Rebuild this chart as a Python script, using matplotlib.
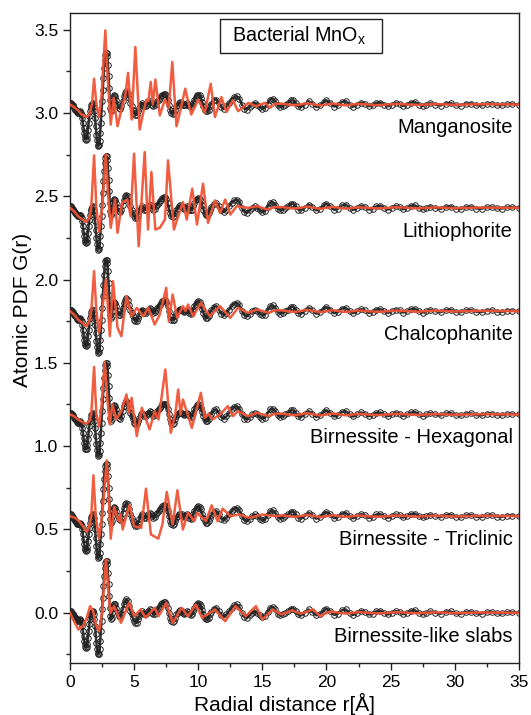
import numpy as np
import matplotlib
matplotlib.use("Agg")
import matplotlib.pyplot as plt
from matplotlib.patches import Rectangle
from matplotlib.ticker import MultipleLocator

plt.rcParams['font.family'] = ['Liberation Sans', 'DejaVu Sans']

# experimental PDF (open circles), same data in every panel
black_r = [0.00, 0.05, 0.10, 0.15, 0.20, 0.25, 0.30, 0.35, 0.40, 0.45, 0.50, 0.55,
           0.60, 0.65, 0.70, 0.75, 0.80, 0.85, 0.90, 0.95, 1.00, 1.05, 1.10, 1.15,
           1.20, 1.25, 1.30, 1.35, 1.40, 1.45, 1.50, 1.55, 1.60, 1.65, 1.70, 1.75,
           1.80, 1.85, 1.90, 1.95, 2.00, 2.05, 2.10, 2.15, 2.20, 2.25, 2.30, 2.35,
           2.40, 2.45, 2.50, 2.55, 2.60, 2.65, 2.70, 2.75, 2.80, 2.85, 2.90, 2.95,
           3.00, 3.05, 3.10, 3.15, 3.20, 3.25, 3.30, 3.35, 3.40, 3.45, 3.50,
           3.6, 3.7, 3.8, 3.9, 4.0, 4.1, 4.2, 4.3, 4.4, 4.5, 4.6, 4.7, 4.8, 4.9,
           5.0, 5.1, 5.2, 5.3, 5.4, 5.5, 5.6, 5.7, 5.8, 5.9, 6.0, 6.1, 6.2, 6.3,
           6.4, 6.5, 6.6, 6.7, 6.8, 6.9, 7.0, 7.1, 7.2, 7.3, 7.4, 7.5, 7.6, 7.7,
           7.8, 7.9, 8.0, 8.1, 8.2, 8.3, 8.4, 8.5, 8.6, 8.7, 8.8, 8.9, 9.0, 9.1,
           9.2, 9.3, 9.4, 9.5, 9.6, 9.7, 9.8, 9.9, 10.0, 10.1, 10.2, 10.3, 10.4,
           10.5, 10.6, 10.7, 10.8, 10.9, 11.0, 11.2, 11.4, 11.6, 11.8, 12.0, 12.2,
           12.4, 12.6, 12.8, 13.0, 13.2, 13.4, 13.6, 13.8, 14.0, 14.2, 14.4, 14.6,
           14.8, 15.0, 15.2, 15.4, 15.6, 15.8, 16.0, 16.2, 16.4, 16.6, 16.8, 17.0,
           17.2, 17.4, 17.6, 17.8, 18.0, 18.3, 18.6, 18.9, 19.2, 19.5, 19.8, 20.0,
           20.3, 20.6, 20.9, 21.2, 21.5, 21.8, 22.1, 22.4, 22.7, 23.0, 23.3, 23.6,
           23.9, 24.2, 24.5, 24.8, 25.1, 25.4, 25.7, 26.0, 26.3, 26.6, 26.9, 27.2,
           27.5, 27.8, 28.1, 28.5, 28.9, 29.3, 29.7, 30.1, 30.5, 30.9, 31.3, 31.7,
           32.1, 32.5, 32.9, 33.3, 33.7, 34.1, 34.5, 35.0]
black_g = [0.01, 0.01, 0.005, 0.0, -0.005, -0.01, -0.02, -0.025, -0.03, -0.035, -0.04, -0.045,
           -0.05, -0.05, -0.045, -0.04, -0.045, -0.05, -0.06, -0.08, -0.11, -0.14, -0.17, -0.19,
           -0.205, -0.21, -0.205, -0.185, -0.15, -0.11, -0.07, -0.04, -0.02, -0.005, 0.005, 0.01,
           0.005, -0.01, -0.04, -0.08, -0.13, -0.18, -0.215, -0.24, -0.25, -0.245, -0.22, -0.17,
           -0.11, -0.05, 0.02, 0.09, 0.16, 0.22, 0.27, 0.30, 0.31, 0.31, 0.29, 0.24,
           0.17, 0.10, 0.03, -0.02, -0.04, -0.03, 0.0, 0.03, 0.05, 0.055, 0.05,
           0.03, 0.0, -0.02, -0.025, -0.01, 0.02, 0.05, 0.07, 0.08, 0.07, 0.04, 0.01, -0.01, -0.03,
           -0.05, -0.06, -0.06, -0.04, -0.02, 0.0, 0.01, 0.0, -0.01, -0.01, 0.0, 0.01, 0.02, 0.015,
           0.0, -0.01, -0.005, 0.01, 0.02, 0.03, 0.04, 0.05, 0.06, 0.065, 0.065, 0.055, 0.03, 0.0,
           -0.03, -0.05, -0.055, -0.05, -0.03, -0.01, 0.0, 0.01, 0.015, 0.01, 0.0, -0.005, 0.0, 0.01,
           0.005, -0.01, -0.015, -0.01, 0.01, 0.03, 0.045, 0.055, 0.06, 0.055, 0.04, 0.015, -0.01,
           -0.03, -0.04, -0.04, -0.03, -0.01, 0.005, 0.025, 0.03, 0.01, -0.015, -0.025, -0.01,
           0.01, 0.03, 0.045, 0.05, 0.035, 0.0, -0.025, -0.03, -0.015, 0.0, 0.01, 0.0,
           -0.015, -0.025, -0.02, 0.005, 0.03, 0.035, 0.02, -0.005, -0.015, -0.01, 0.0, 0.01,
           0.025, 0.025, 0.01, -0.01, -0.015, 0.0, 0.02, 0.005, -0.015, -0.005, 0.015, 0.025,
           0.01, -0.012, -0.005, 0.015, 0.02, 0.0, -0.012, 0.0, 0.012, 0.005, -0.01, -0.005,
           0.01, 0.012, 0.0, -0.01, 0.0, 0.01, 0.005, -0.008, 0.0, 0.012, 0.015, 0.0,
           -0.008, 0.0, 0.008, 0.0, -0.006, 0.006, 0.008, -0.004, -0.006, 0.005, 0.006, -0.004,
           -0.005, 0.004, 0.005, -0.003, -0.004, 0.003, 0.003, 0.0]

# model fits (red lines), read up to ~16 A, then a common flat tail
mang_r = [0, 0.3, 0.62, 0.9, 1.27, 1.5, 1.7, 1.87, 2.05, 2.26, 2.45, 2.6, 2.75, 2.9,
          3.17, 3.4, 3.7, 4.1, 4.3, 4.52, 4.8, 5.09, 5.43, 5.7, 5.95, 6.1, 6.29, 6.45,
          6.65, 7.0, 7.4, 7.7, 7.97, 8.3, 8.65, 8.98, 9.45, 10.0, 10.5, 10.97, 11.3,
          11.8, 12.2, 12.7, 13.1, 13.9, 14.5, 15.2, 15.6, 16.0]
mang_g = [0, -0.015, -0.035, -0.06, -0.075, -0.06, 0.0, 0.155, 0.0, -0.075, 0.05, 0.25,
          0.445, 0.2, -0.12, 0.04, -0.13, 0.0, 0.05, 0.19, -0.09, 0.345, -0.15, -0.05,
          0.03, 0.02, 0.135, 0.0, 0.15, -0.065, 0.03, -0.02, 0.255, -0.13, -0.02, 0.095,
          -0.06, 0.03, -0.05, 0.125, -0.075, 0.045, -0.045, 0.025, -0.04, 0.01, -0.01,
          0.01, -0.02, 0.005]

lith_r = [0, 0.3, 0.62, 0.95, 1.27, 1.5, 1.65, 1.87, 2.05, 2.26, 2.5, 2.78, 2.95, 3.17,
          3.5, 3.7, 4.05, 4.47, 4.72, 4.99, 5.35, 5.82, 6.08, 6.34, 6.65, 7.0, 7.4, 7.64,
          8.1, 8.8, 9.1, 9.53, 9.9, 10.37, 10.76, 11.3, 11.7, 12.1, 12.5, 13.0, 13.9,
          14.6, 15.4, 16.0]
lith_g = [0, -0.02, -0.05, -0.07, -0.085, -0.06, 0.0, 0.315, 0.0, -0.145, 0.0, 0.32, 0.1,
          -0.12, 0.05, -0.15, 0.03, 0.05, -0.05, 0.325, -0.23, 0.335, -0.13, 0.215, -0.13,
          -0.12, -0.07, 0.285, -0.13, 0.035, -0.07, 0.115, -0.10, 0.145, -0.09, 0.045,
          -0.03, 0.05, -0.04, 0.01, 0.0, 0.01, -0.01, 0.005]

chal_r = [0, 0.3, 0.62, 0.95, 1.27, 1.5, 1.65, 1.87, 2.05, 2.26, 2.5, 2.8, 3.1, 3.35,
          3.7, 4.0, 4.4, 4.8, 5.2, 5.7, 6.1, 6.6, 7.0, 7.5, 7.7, 8.0, 8.35, 8.8, 9.0,
          9.2, 9.6, 10.2, 10.9, 11.7, 12.5, 13.1, 13.9, 14.6, 15.5, 16.0]
chal_g = [0, -0.02, -0.05, -0.07, -0.09, -0.06, 0.0, 0.24, 0.0, -0.13, 0.0, 0.19, -0.15,
          0.18, -0.10, -0.15, 0.09, -0.03, 0.02, -0.03, 0.02, -0.08, -0.02, 0.14, -0.06,
          0.10, -0.04, 0.03, 0.0, 0.04, -0.03, 0.05, -0.03, 0.03, -0.04, 0.02, -0.01,
          0.01, -0.01, 0.005]

hexa_r = [0, 0.3, 0.62, 0.95, 1.27, 1.5, 1.65, 1.87, 2.05, 2.26, 2.45, 2.7, 2.9, 3.1,
          3.3, 3.6, 4.0, 4.4, 4.6, 4.8, 5.2, 5.6, 6.2, 6.6, 6.9, 7.43, 7.85, 8.2, 8.43,
          8.62, 8.8, 9.5, 10.2, 10.5, 10.8, 11.1, 11.7, 12.3, 12.7, 13.1, 13.9, 14.6,
          15.5, 16.0]
hexa_g = [0, -0.01, -0.03, -0.045, -0.055, -0.04, 0.0, 0.285, 0.0, -0.07, 0.05, 0.315,
          0.1, -0.06, 0.06, -0.03, 0.02, 0.12, 0.01, 0.10, -0.13, 0.04, -0.09, 0.02,
          -0.03, 0.27, -0.11, 0.0, 0.15, 0.0, 0.09, -0.08, 0.13, -0.02, 0.005, -0.03,
          0.0, 0.05, -0.01, 0.02, -0.01, 0.01, -0.01, 0.005]

tric_r = [0, 0.39, 0.7, 1.04, 1.3, 1.5, 1.65, 1.82, 2.0, 2.26, 2.5, 2.86, 3.0, 3.17,
          3.43, 3.8, 3.95, 4.1, 4.62, 5.0, 5.55, 5.92, 6.3, 6.88, 7.2, 7.54, 8.0, 8.37,
          8.8, 9.2, 9.7, 9.9, 10.6, 11.04, 11.5, 11.9, 12.5, 13.2, 14.0, 15.0, 16.0]
tric_g = [0, -0.01, -0.03, -0.065, -0.095, -0.06, 0.0, 0.245, 0.0, -0.135, 0.0, 0.335,
          0.15, -0.135, 0.055, -0.03, 0.01, -0.08, 0.065, -0.06, -0.07, 0.165, -0.11,
          -0.135, -0.05, 0.145, -0.05, 0.155, -0.08, 0.02, -0.03, 0.02, -0.03, 0.065,
          -0.03, 0.045, 0.0, 0.01, -0.01, 0.01, 0.0]

slab_r = [0, 0.3, 0.65, 1.0, 1.3, 1.56, 1.8, 2.0, 2.26, 2.5, 2.79, 3.0, 3.15, 3.43, 3.97,
          4.6, 5.0, 5.5, 5.9, 6.6, 6.9, 7.5, 8.0, 8.7, 9.2, 9.8, 10.3, 11.3, 12.1, 12.9,
          13.7, 14.5, 15.0, 15.8, 16.5, 17.3, 18.0, 18.97, 19.5, 20.2]
slab_g = [0, -0.05, -0.10, -0.08, -0.03, 0.04, 0.01, -0.07, -0.11, 0.0, 0.32, 0.12, 0.0,
          0.04, -0.06, 0.06, -0.02, 0.02, -0.03, 0.03, -0.02, 0.06, -0.06, 0.03, -0.02,
          0.05, -0.03, 0.02, -0.05, 0.04, -0.02, 0.04, -0.04, 0.02, -0.01, 0.015, -0.005,
          0.02, -0.02, 0.005]

tail_r = [16.5, 17.5, 18.5, 19.5, 20.5, 21.5, 22.5, 24.0, 25.5, 27.0, 28.5, 30.0, 32.0, 35.0]
tail_g = [0.005, -0.005, 0.008, -0.006, 0.006, -0.005, 0.004, -0.004, 0.004, -0.003,
          0.003, -0.002, 0.002, 0.0]

names = ["Manganosite", "Lithiophorite", "Chalcophanite", "Birnessite - Hexagonal",
         "Birnessite - Triclinic", "Birnessite-like slabs"]
offsets = [3.05, 2.43, 1.81, 1.19, 0.58, 0.0]
fits = [(mang_r, mang_g), (lith_r, lith_g), (chal_r, chal_g), (hexa_r, hexa_g),
        (tric_r, tric_g), (slab_r, slab_g)]

red = '#f05436'

fig = plt.figure(figsize=(5.31, 7.15), dpi=100)
ax = fig.add_axes([0.132, 0.073, 0.845, 0.909])

for name, off, (fr, fg) in zip(names, offsets, fits):
    ax.plot(black_r, np.array(black_g) + off, color='#333333', lw=1.8,
            marker='o', ms=4.0, mfc='none', mec='#222222', mew=0.7, zorder=2)
    rr = list(fr) + [r for r in tail_r if r > fr[-1]]
    gg = list(fg) + [g for r, g in zip(tail_r, tail_g) if r > fr[-1]]
    ax.plot(rr, np.array(gg) + off, color=red, lw=1.8, alpha=0.95, zorder=3)
    ax.text(0.986, off - 0.14, name, transform=ax.get_yaxis_transform(),
            ha='right', va='center', fontsize=14.5)

# title box
ax.add_patch(Rectangle((0.334, 0.938), 0.361, 0.053, transform=ax.transAxes,
                       fc='white', ec='#222222', lw=1.0, zorder=4))
ax.text(0.51, 0.9645, r'Bacterial MnO$_\mathregular{x}$', transform=ax.transAxes,
        ha='center', va='center', fontsize=14.2, zorder=5)

ax.set_xlim(0, 35)
ax.set_ylim(-0.30, 3.60)
ax.xaxis.set_major_locator(MultipleLocator(5))
ax.xaxis.set_minor_locator(MultipleLocator(2.5))
ax.set_yticks([0.0, 0.5, 1.0, 1.5, 2.0, 2.5, 3.0, 3.5])
ax.yaxis.set_minor_locator(MultipleLocator(0.25))
ax.tick_params(which='both', direction='out', labelsize=12.5, color='#222222', width=1)
ax.tick_params(which='major', length=5)
ax.tick_params(which='minor', length=3)
for s in ax.spines.values():
    s.set_color('#222222')
    s.set_linewidth(1.0)

ax.set_xlabel('Radial distance r[Å]', fontsize=15)
ax.xaxis.set_label_coords(0.478, -0.047)
ax.set_ylabel('Atomic PDF G(r)', fontsize=15, va='center')
ax.yaxis.set_label_coords(-0.107, 0.543)

fig.savefig('out.png', dpi=100)
